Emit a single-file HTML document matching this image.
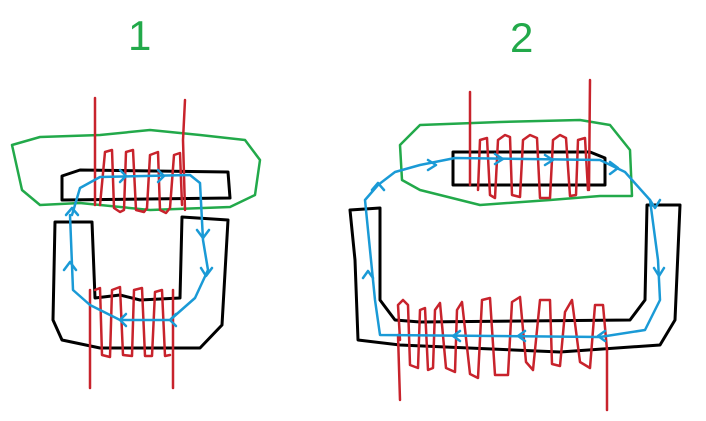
<!DOCTYPE html>
<html><head><style>html,body{margin:0;padding:0;background:#fff;}svg{display:block;}</style></head>
<body>
<svg width="706" height="421" viewBox="0 0 706 421" xmlns="http://www.w3.org/2000/svg" fill="none" stroke-linejoin="round" stroke-linecap="round">
<text x="128" y="50" font-family="Liberation Sans, sans-serif" font-size="42" fill="#22a94a">1</text>
<text x="510" y="52" font-family="Liberation Sans, sans-serif" font-size="42" fill="#22a94a">2</text>

<!-- Figure 1 -->
<path d="M12,145 L40,137 L100,135 L150,130 L200,135 L245,140 L260,160 L255,195 L230,207 L150,210 L80,203 L40,205 L22,190 Z" stroke="#22a94a" stroke-width="2.5"/>
<path d="M62,176 L80,170 L228,172 L230,198 L62,200 Z" stroke="#000" stroke-width="3"/>
<path d="M92,222 L55,222 L53,320 L62,340 L100,348 L200,348 L222,325 L228,220 L182,217 L180,298 L140,300 L120,295 L95,298 Z" stroke="#000" stroke-width="3"/>
<g stroke="#c8232c" stroke-width="2.5">
<path d="M95,98 L95,205"/><path d="M185,100 L183,140 L185,210"/>
<polyline points="100,205 105,152 112,150 114,208 120,212 124,210 126,152 133,150 136,210 144,212 147,208 150,155 158,152 160,210 166,213 170,208 174,155 180,153 182,205"/>
<path d="M90,290 L90,388"/><path d="M173,290 L173,388"/>
<polyline points="95,290 100,288 102,355 110,357 112,290 120,287 123,355 132,356 134,290 142,288 145,356 152,356 155,292 162,290 165,356 170,355"/>
</g>
<g stroke="#1a9ad6" stroke-width="2.5">
<path d="M72,215 L80,188 L100,177 L190,175 L200,183 L203,240 L208,270 L195,298 L170,320 L120,320 L90,305 L73,290 L70,215"/>
<polyline points="120,182 126,176 120,170"/><polyline points="158,182 164,176 158,170"/>
<polyline points="197,230 203,238 209,230"/><polyline points="201,268 206,276 212,268"/>
<polyline points="176,314 170,320 176,326"/><polyline points="126,314 120,320 126,326"/>
<polyline points="64,270 70,262 76,270"/><polyline points="66,215 72,208 78,215"/>
</g>

<!-- Figure 2 -->
<path d="M400,145 L420,125 L500,122 L580,120 L610,125 L630,150 L632,196 L600,196 L550,200 L480,205 L420,190 L402,180 Z" stroke="#22a94a" stroke-width="2.5"/>
<path d="M453,152 L590,152 L605,158 L605,185 L453,185 Z" stroke="#000" stroke-width="3"/>
<path d="M380,208 L350,210 L355,260 L358,340 L400,345 L560,352 L660,345 L675,320 L680,205 L647,205 L645,300 L630,320 L420,322 L395,320 L380,300 Z" stroke="#000" stroke-width="3"/>
<g stroke="#c8232c" stroke-width="2.5">
<path d="M470,92 L470,185"/><path d="M590,80 L589,190"/>
<polyline points="478,190 480,140 487,138 490,195 495,198 498,140 505,135 510,137 512,195 520,197 523,140 530,135 537,138 540,198 550,198 553,140 560,135 566,138 570,196 576,195 578,140 585,138 588,190"/>
<path d="M398,335 L400,400"/><path d="M607,350 L607,410"/>
<polyline points="400,340 398,305 403,300 408,305 410,365 418,368 420,310 425,308 428,370 433,368 435,310 440,303 446,368 455,372 457,310 462,302 470,374 478,378 482,300 490,298 495,375 508,375 512,302 520,297 526,362 533,370 540,300 550,300 552,364 560,366 565,312 572,300 580,362 590,368 595,305 603,305 607,350"/>
</g>
<g stroke="#1a9ad6" stroke-width="2.5">
<path d="M378,185 L395,172 L420,165 L455,158 L600,160 L625,172 L650,200 L658,260 L660,300 L645,330 L600,337 L380,335 L375,300 L365,200 Z"/>
<polyline points="428,160 436,165 428,170"/><polyline points="495,154 503,159 495,164"/><polyline points="545,155 553,160 545,165"/><polyline points="610,162 618,168 610,174"/>
<polyline points="650,200 655,208 660,200"/><polyline points="654,268 659,276 664,268"/>
<polyline points="605,331 598,336 605,341"/><polyline points="525,331 518,336 525,341"/><polyline points="460,331 453,336 460,341"/>
<polyline points="363,278 368,271 373,278"/><polyline points="372,190 378,183 384,190"/>
</g>
</svg>
</body></html>
